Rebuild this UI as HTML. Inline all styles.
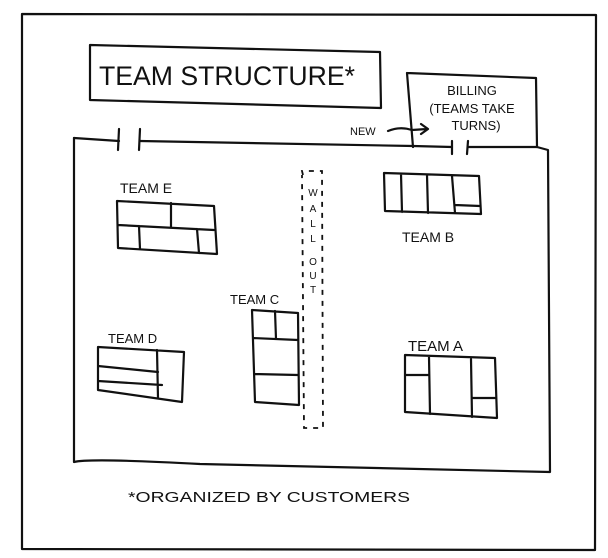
<!DOCTYPE html>
<html><head><style>
html,body{margin:0;padding:0;background:#fff;width:608px;height:558px;overflow:hidden}
svg{display:block}
text{font-family:"Liberation Sans",sans-serif;fill:#111}
</style></head><body>
<svg width="608" height="558" viewBox="0 0 608 558" xmlns="http://www.w3.org/2000/svg">
<g fill="none" stroke="#111" stroke-width="2.2" stroke-linejoin="round" stroke-linecap="round">
<!-- outer frame -->
<path d="M22,14 L596,15 L595,550 L22,549 Z"/>
<!-- title box -->
<path d="M90,45 L380,52 L381,108 L90,100 Z"/>
<!-- billing box -->
<path d="M407,73 L536,78 L537,147 M407,73 L413,147"/>
<!-- room top line with doors -->
<path d="M74,138 L119,141 M140,141 L413,146 L452,147 M468,147 L537,147"/>
<path d="M119,129 L118,150 M140,129 L139,150 M452,141 L452,154 M468,141 L467,154"/>
<!-- room walls -->
<path d="M74,138 L74,462 Q90,458 200,464 L550,472 L548,150 L537,147"/>
<!-- arrow NEW -->
<path d="M388,131 Q400,126 412,130 L427,129 M421,124 L428,129 L421,134"/>
<!-- team E -->
<path d="M117,201 L214,206 L217,254 L118,248 Z M118,225 L214,230 M171,203 L171,227 M139,226 L140,249 M197,229 L199,253"/>
<!-- team B -->
<path d="M384,173 L479,176 L481,214 L385,211 Z M401,174 L402,212 M427,175 L428,213 M452,176 L455,213 M455,205 L480,206"/>
<!-- team C -->
<path d="M252,310 L298,313 L299,405 L255,402 L252,310 M253,338 L298,340 M275,311 L276,339 M254,374 L298,375"/>
<!-- team D -->
<path d="M98,347 L184,352 L182,402 L98,390 Z M98,366 L158,372 M98,381 L162,385 M157,350 L158,398"/>
<!-- team A -->
<path d="M405,355 L495,358 L497,418 L405,412 Z M429,357 L430,414 M471,359 L472,417 M406,375 L428,375 M472,398 L496,398"/>
</g>
<!-- wall dashed -->
<path d="M303,175 L302,171 L322,171 L323,428 L304,428 L302,175" fill="none" stroke="#111" stroke-width="1.8" stroke-dasharray="5,6"/>
<text x="99" y="85" font-size="27" textLength="256" lengthAdjust="spacingAndGlyphs">TEAM STRUCTURE*</text>
<text x="472" y="95" font-size="13" text-anchor="middle">BILLING</text>
<text x="472" y="113" font-size="13" text-anchor="middle">(TEAMS TAKE</text>
<text x="476" y="130" font-size="13" text-anchor="middle">TURNS)</text>
<text x="350" y="135" font-size="11">NEW</text>
<text x="120" y="193" font-size="14">TEAM E</text>
<text x="402" y="242" font-size="14">TEAM B</text>
<text x="230" y="304" font-size="13">TEAM C</text>
<text x="108" y="343" font-size="13">TEAM D</text>
<text x="408" y="351" font-size="15">TEAM A</text>
<g font-size="10" text-anchor="middle">
<text x="313" y="196">W</text><text x="313" y="212">A</text><text x="313" y="227">L</text><text x="313" y="242">L</text>
<text x="313" y="265">O</text><text x="313" y="279">U</text><text x="313" y="293">T</text>
</g>
<text x="128" y="502" font-size="15" textLength="282" lengthAdjust="spacingAndGlyphs">*ORGANIZED  BY CUSTOMERS</text>
</svg>
</body></html>
